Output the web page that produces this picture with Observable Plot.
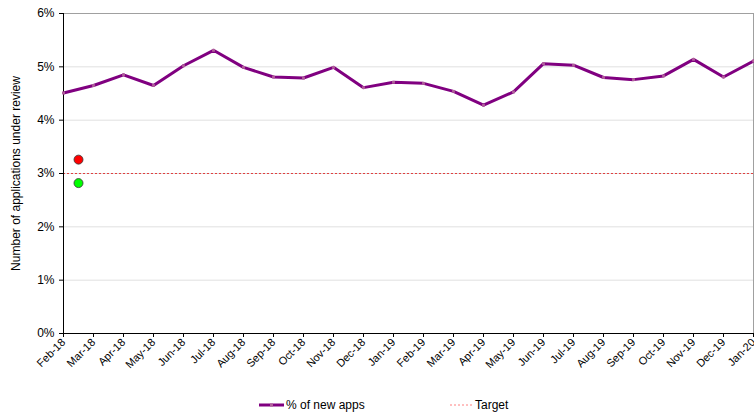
<!DOCTYPE html>
<html><head><meta charset="utf-8">
<script src="https://cdn.jsdelivr.net/npm/d3@7"></script>
<script src="https://cdn.jsdelivr.net/npm/@observablehq/plot@0.6"></script>
<style>
body{margin:0;background:#fff;font-family:"Liberation Sans",Arial,sans-serif;}
#wrap{position:relative;width:754px;height:414px;}
#legend{position:absolute;left:0;top:396px;width:754px;height:18px;font-size:12px;color:#000;}
.item{position:absolute;top:0;display:flex;align-items:center;height:18px;}
</style></head><body>
<div id="wrap"><div id="chart"></div><div id="legend"></div></div>
<script>
const months = ["Feb-18","Mar-18","Apr-18","May-18","Jun-18","Jul-18","Aug-18","Sep-18","Oct-18","Nov-18","Dec-18","Jan-19","Feb-19","Mar-19","Apr-19","May-19","Jun-19","Jul-19","Aug-19","Sep-19","Oct-19","Nov-19","Dec-19","Jan-20"];
const newApps = [4.51,4.65,4.85,4.65,5.02,5.31,4.99,4.81,4.79,4.99,4.61,4.71,4.69,4.54,4.28,4.53,5.06,5.03,4.80,4.76,4.83,5.14,4.81,5.11];
const targetValue = 3;
const indicatorPos = [0.5, 0.5];
const indicatorValues = [3.26, 2.82];
const indicatorColors = ["#ff0000", "#00ff00"];
const yTicks = [0,1,2,3,4,5,6];

const series = months.map((m,i)=>({i, m, v:newApps[i]}));
const indicators = indicatorPos.map((p,k)=>({p, v:indicatorValues[k], c:indicatorColors[k]}));
const n = months.length;

const chart = Plot.plot({
  width:754, height:386,
  marginLeft:63, marginRight:1, marginTop:13, marginBottom:53,
  style:{fontFamily:'"Liberation Sans", Arial, sans-serif', fontSize:"11px", color:"#000", background:"#fff"},
  x:{type:"linear", domain:[0,n-1]},
  y:{domain:[0,6]},
  marks:[
    Plot.ruleY(yTicks.filter(d=>d>0 && d<6), {stroke:"#e0e0e0", strokeWidth:1}),
    Plot.ruleY([6], {stroke:"#a0a0a0"}),
    Plot.ruleX([n-1], {stroke:"#a0a0a0"}),
    Plot.ruleY([targetValue], {stroke:"#e04040", strokeWidth:1, strokeDasharray:"2,2"}),
    Plot.axisY({ticks:yTicks, tickFormat:d=>d+"%", tickSize:4, fontSize:12, label:"Number of applications under review", labelAnchor:"center", labelArrow:"none", labelOffset:52}),
    Plot.axisX({ticks:d3.range(n), tickFormat:i=>months[i], tickSize:4, tickRotate:-45, fontSize:11, label:null, tickPadding:3}),
    Plot.ruleY([0], {stroke:"#000"}),
    Plot.ruleX([0], {stroke:"#000"}),
    Plot.line(series, {x:"i", y:"v", stroke:"#800080", strokeWidth:3}),
    Plot.dot(series, {x:"i", y:"v", r:1.6, fill:"#b0609a", symbol:"square"}),
    Plot.dot(indicators, {x:"p", y:"v", r:4.5, fill:d=>d.c, stroke:"#333", strokeWidth:0.8})
  ]
});
document.getElementById("chart").appendChild(chart);

const legendItems = [
  {label:"% of new apps", left:259, kind:"line"},
  {label:"Target", left:450, kind:"target"}
];
const lg = document.getElementById("legend");
legendItems.forEach(it=>{
  const d = document.createElement("div");
  d.className="item"; d.style.left=it.left+"px";
  const sample = it.kind==="line"
    ? '<svg width="26" height="18"><line x1="0" y1="9" x2="25" y2="9" stroke="#800080" stroke-width="3"/><rect x="11" y="7.5" width="3" height="3" fill="#b0609a"/></svg>'
    : '<svg width="24" height="18"><line x1="0" y1="9" x2="22" y2="9" stroke="#ff8080" stroke-width="1" stroke-dasharray="2,2"/></svg>';
  d.innerHTML = sample + '<span style="margin-left:1px">'+it.label+'</span>';
  lg.appendChild(d);
});
</script>
</body></html>
